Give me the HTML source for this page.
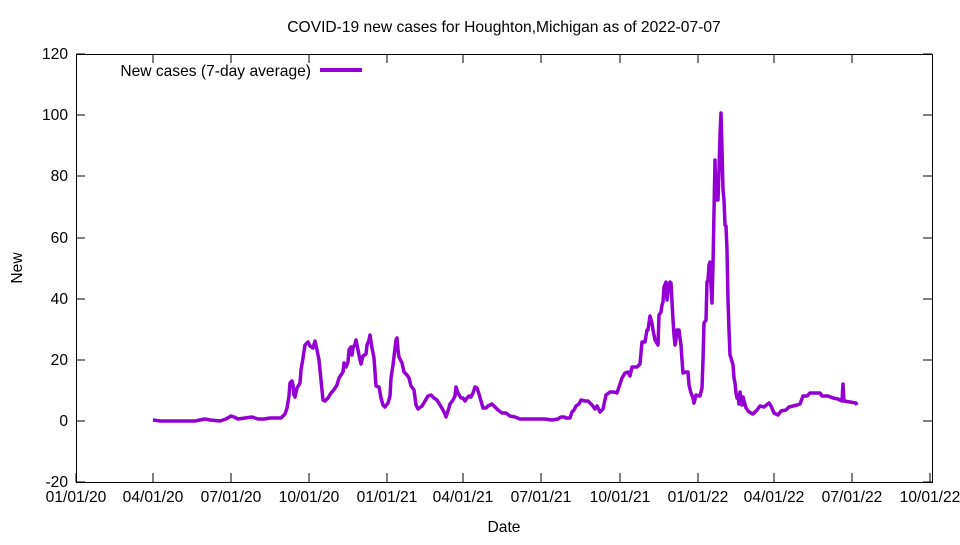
<!DOCTYPE html>
<html><head><meta charset="utf-8"><style>body{margin:0;background:#fff}svg text{font-family:"Liberation Sans",sans-serif;font-size:15.6px;fill:#000}</style></head><body>
<svg width="960" height="540" viewBox="0 0 960 540">
<g stroke="#000" stroke-width="1" fill="none">
<rect x="76.5" y="54.5" width="856" height="428"/>
<path d="M76 421h9M932 421h-9M76 360h9M932 360h-9M76 299h9M932 299h-9M76 238h9M932 238h-9M76 176h9M932 176h-9M76 115h9M932 115h-9M76 54h9M932 54h-9M76 482h9M932 482h-9"/>
<path d="M76 482v-9M153 482v-9M231 482v-9M309 482v-9M387 482v-9M463 482v-9M541 482v-9M620 482v-9M698 482v-9M774 482v-9M852 482v-9M930 482v-9M153 54v9M231 54v9M309 54v9M387 54v9M463 54v9M541 54v9M620 54v9M698 54v9M774 54v9M852 54v9"/>
</g>
<g text-anchor="end">
<text x="68" y="426">0</text><text x="68" y="487">-20</text><text x="68" y="365">20</text><text x="68" y="304">40</text><text x="68" y="243">60</text><text x="68" y="181">80</text><text x="68" y="120">100</text><text x="68" y="59">120</text>
</g>
<g text-anchor="middle">
<text x="76" y="502">01/01/20</text><text x="153" y="502">04/01/20</text><text x="231" y="502">07/01/20</text><text x="309" y="502">10/01/20</text><text x="387" y="502">01/01/21</text><text x="463" y="502">04/01/21</text><text x="541" y="502">07/01/21</text><text x="620" y="502">10/01/21</text><text x="698" y="502">01/01/22</text><text x="774" y="502">04/01/22</text><text x="852" y="502">07/01/22</text><text x="930" y="502">10/01/22</text>
<text x="504" y="532">Date</text>
<text x="504" y="32">COVID-19 new cases for Houghton,Michigan as of 2022-07-07</text>
<text transform="translate(22,268) rotate(-90)">New</text>
</g>
<text x="311" y="76" text-anchor="end">New cases (7-day average)</text>
<path d="M320 70h42" stroke="#9400d3" stroke-width="4"/>
<polyline fill="none" stroke="#9400d3" stroke-width="3.5" stroke-linejoin="round" points="153,420 160,421 170,421 180,421 195,421 200,420 205,419 210,420 220,421 226,419 231,416 234,417 238,419 245,418 252,417 258,419 264,419 270,418 281,418 285,414 287,408 289,396 290,383 292,381 293,385 294,395 295,397 297,388 300,383 301,370 303,358 305,345 308,342 310,346 313,348 315,341 317,350 319,360 322,390 323,400 325,401 328,398 331,393 333,391 335,388 337,385 339,378 341,375 343,372 344,363 346,367 348,362 349,350 351,347 352,355 353,348 355,344 356,340 358,350 360,360 361,364 363,356 366,354 367,345 369,340 370,335 372,348 374,358 376,386 379,387 381,398 383,405 385,407 388,403 390,396 391,378 393,365 396,340 397,338 398,350 399,357 402,363 404,372 407,375 409,378 411,386 414,390 416,405 418,409 422,406 425,401 428,396 431,395 434,398 437,400 440,405 443,410 445,414 446,417 448,411 450,404 453,400 455,396 456,387 458,393 461,398 463,398 465,401 467,398 469,396 471,397 473,393 475,387 477,388 479,394 481,401 483,408 486,408 488,406 490,405 492,404 495,407 498,410 502,413 506,413 510,416 515,417 520,419 525,419 530,419 535,419 540,419 545,419 552,420 558,419 561,417 564,417 566,418 570,418 572,412 574,410 576,406 579,404 581,400 585,401 588,401 592,405 595,409 597,406 600,412 603,409 606,395 610,392 614,392 617,393 619,387 622,378 625,373 628,372 630,376 632,367 637,367 640,364 642,342 645,342 647,330 648,330 650,316 652,323 653,330 655,340 658,345 659,315 661,312 662,305 663,302 664,287 666,282 667,300 669,285 670,282 671,283 673,320 674,335 675,345 676,340 677,330 679,330 680,338 681,345 682,360 683,373 686,372 688,372 689,385 691,393 693,398 694,403 696,395 699,396 700,396 702,388 703,360 704,323 706,320 707,282 708,280 709,265 710,262 711,285 712,303 713,265 714,212 715,160 716,200 718,200 719,170 720,135 721,113 722,150 723,190 724,200 725,225 726,226 727,250 728,300 729,330 730,355 731,358 733,365 734,378 735,383 736,393 737,398 738,395 739,404 740,392 742,405 743,397 746,408 749,412 753,414 757,410 760,406 764,407 769,403 771,406 774,413 778,415 781,411 786,410 789,407 793,406 797,405 800,404 803,396 807,396 810,393 815,393 820,393 822,396 828,396 833,398 838,399 842,401 843,384 844,401 850,402 856,403 857,405"/>
</svg>
</body></html>
